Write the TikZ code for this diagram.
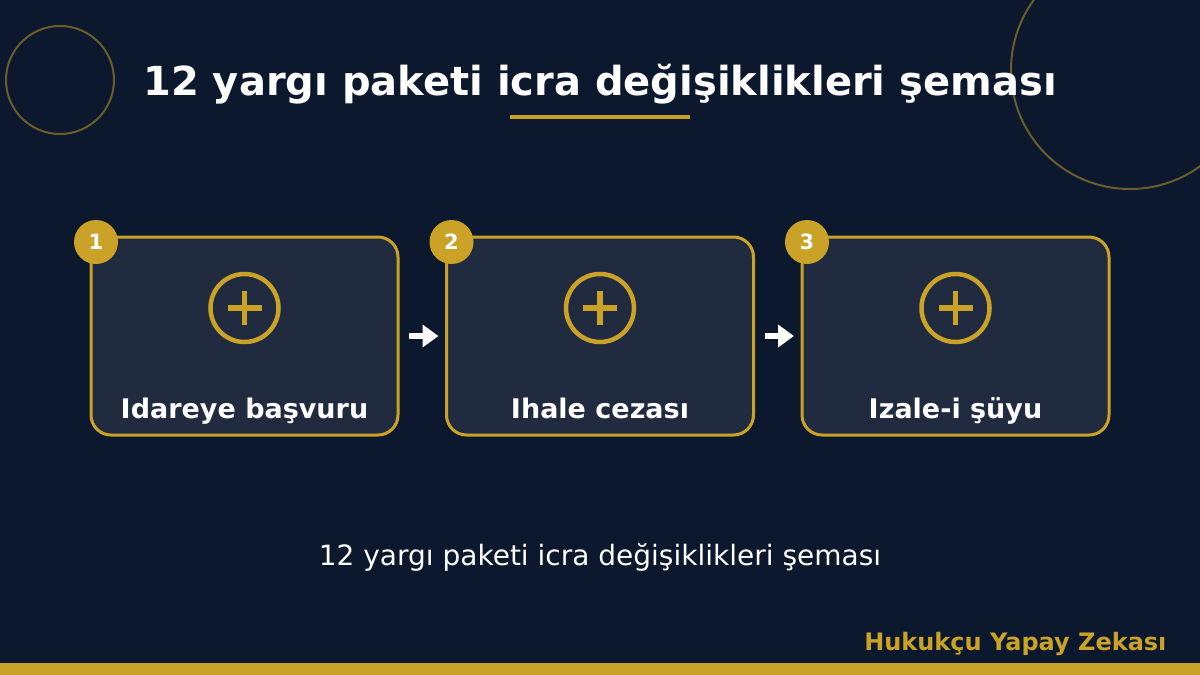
\documentclass[tikz,border=0pt]{standalone}
\usepackage{fontspec}
\setmainfont{DejaVu Sans}
\usetikzlibrary{arrows.meta}
\definecolor{bg}{HTML}{0B182D}
\definecolor{boxfill}{HTML}{212B3F}
\definecolor{gold}{HTML}{C9A227}
\definecolor{golddim}{HTML}{6B5D2B}
\tikzset{
  stepbox/.style={draw=gold, line width=3pt, fill=boxfill, rounded corners=20pt, minimum width=307pt, minimum height=198pt, inner sep=0pt, outer sep=0pt},
  badge/.style={circle, fill=gold, minimum size=44pt, inner sep=0pt, text=white, font=\bfseries\fontsize{21}{25}\selectfont},
  icon/.style={circle, draw=gold, line width=4.5pt, minimum size=68pt, inner sep=0pt},
  lbl/.style={text=white, font=\bfseries\fontsize{27}{32}\selectfont, anchor=base},
  flow/.style={white, line width=6pt, -{Triangle[length=16pt,width=22pt]}, shorten <=11pt, shorten >=8pt},
  deco/.style={draw=golddim, line width=2pt}
}
\begin{document}
\begin{tikzpicture}[x=1pt,y=-1pt]
\fill[bg] (0,0) rectangle (1200,675);
\useasboundingbox (0,0) rectangle (1200,675);
% decorative circles
\draw[deco] (60,80) circle (54);
\draw[deco] (1130,70) circle (119);
% title
\node[text=white, font=\bfseries\fontsize{40}{48}\selectfont] (title) at (600,84) {12 yargı paketi icra değişiklikleri şeması};
\fill[gold] (510,115) rectangle (690,119);
% boxes
\foreach \i/\x/\t in {1/244.5/Idareye başvuru, 2/600/Ihale cezası, 3/955.5/Izale-i şüyu}{
  \node[stepbox] (b\i) at (\x,336) {};
  \node[badge] (n\i) at ([xshift=5pt,yshift=-5pt]b\i.north west) {\i};
  \node[icon] (ic\i) at (\x,308) {};
  \draw[gold, line width=5.5pt] ([xshift=-17pt]ic\i.center) -- ([xshift=17pt]ic\i.center);
  \draw[gold, line width=5.5pt] ([yshift=-17pt]ic\i.center) -- ([yshift=17pt]ic\i.center);
  \node[lbl] (l\i) at (\x,418) {\t};
}
\draw[flow] (b1.east) -- (b2.west);
\draw[flow] (b2.east) -- (b3.west);
% subtitle
\node[text=white, font=\fontsize{28}{33}\selectfont] (sub) at (600,557) {12 yargı paketi icra değişiklikleri şeması};
% footer
\node[text=gold, font=\bfseries\fontsize{24}{29}\selectfont, anchor=east] (foot) at (1170,644) {Hukukçu Yapay Zekası};
\fill[gold] (0,663) rectangle (1200,675);
\end{tikzpicture}
\end{document}
